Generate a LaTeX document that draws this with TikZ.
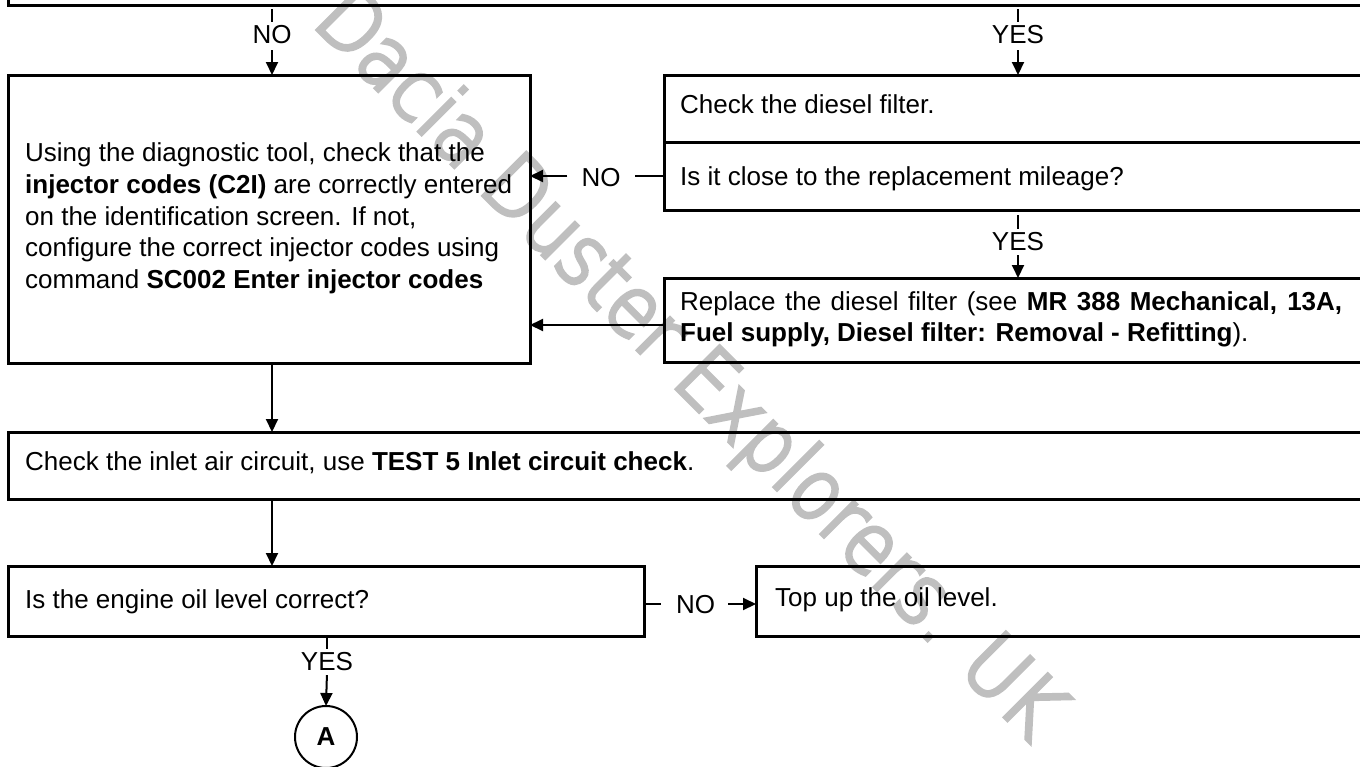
\documentclass[tikz,border=0pt]{standalone}
\usepackage{fontspec}
\setmainfont{Liberation Sans}
\newfontfamily\wmfont{DejaVu Sans ExtraLight}[FakeStretch=0.9, FakeBold=5]
\usetikzlibrary{arrows.meta}
\newcommand\fsz{\fontsize{26pt}{31.7pt}\selectfont}
\newcommand\wmsz{\wmfont\fontsize{83pt}{83pt}\selectfont}
\tikzset{
  box/.style={draw, line width=3pt, rectangle, inner sep=0pt, outer sep=0pt, anchor=north west},
  conn/.style={line width=2pt},
  arr/.style={line width=2pt, -{Triangle[length=13pt,width=12pt]}},
  lbl/.style={inner xsep=0pt, inner ysep=2pt, text height=19pt, text depth=0pt, anchor=base},
  txt/.style={inner sep=0pt, anchor=base west},
}
\begin{document}
\begin{tikzpicture}[x=1pt, y=-1pt, font=\fsz]
\useasboundingbox (0,0) rectangle (1360,766);
\clip (0,0) rectangle (1360,766);
% watermark
\node[font=\wmsz, text=black!25, rotate=-45, inner sep=0pt, text height=60pt, text depth=0pt] (wm) at (692,362) {Dacia Duster Explorers. UK};
% boxes
\node[box, minimum width=1362pt, minimum height=40pt] (top) at (8,-35) {};
\node[box, minimum width=522pt, minimum height=288pt] (left) at (8,75) {};
\node[box, minimum width=706pt, minimum height=67pt] (chk) at (664,75) {};
\node[box, minimum width=706pt, minimum height=68pt] (mil) at (664,142) {};
\node[box, minimum width=706pt, minimum height=84pt] (rep) at (664,278) {};
\node[box, minimum width=1362pt, minimum height=67pt] (inlet) at (8,432) {};
\node[box, minimum width=636pt, minimum height=70pt] (oil) at (8,566) {};
\node[box, minimum width=614pt, minimum height=70pt] (topup) at (756,566) {};
\node[circle, draw, line width=2pt, minimum size=62pt, inner sep=0pt, outer sep=0pt, font=\fsz\bfseries] (A) at (326,737) {A};
% texts
\node[txt] (l1) at (25,161) {Using the diagnostic tool, check that the};
\node[txt] (l2) at (25,193) {\textbf{injector codes (C2I)} are correctly entered};
\node[txt] (l3) at (25,225) {on the identification screen. If not,};
\node[txt] (l4) at (25,256) {configure the correct injector codes using};
\node[txt] (l5) at (25,288) {command \textbf{SC002 Enter injector codes}};
\node[txt] (t1) at (680,113) {Check the diesel filter.};
\node[txt] (t2) at (680,185) {Is it close to the replacement mileage?};
\node[txt] (r1) at (680,310) {\makebox[662pt][s]{Replace the diesel filter (see \textbf{MR 388 Mechanical, 13A,}}};
\node[txt] (r2) at (680,341) {\textbf{Fuel supply, Diesel filter: Removal - Refitting}).};
\node[txt] (t3) at (25,470) {Check the inlet air circuit, use \textbf{TEST 5 Inlet circuit check}.};
\node[txt] (t4) at (25,608) {Is the engine oil level correct?};
\node[txt] (t5) at (775,606) {Top up the oil level.};
% labels
\node[lbl] (noA) at (272,43) {NO};
\node[lbl] (yesA) at (1018,43) {YES};
\node[lbl] (noB) at (601,186) {NO};
\node[lbl] (yesB) at (1018,250) {YES};
\node[lbl] (noC) at (695.5,613.5) {NO};
\node[lbl] (yesC) at (327,670) {YES};
% connectors
\draw[conn, shorten <=4pt] (top.south -| noA) -- (noA.north);
\draw[arr, shorten <=5pt] (noA.south) -- (left.north -| noA);
\draw[conn, shorten <=4pt] (top.south -| yesA) -- (yesA.north);
\draw[arr, shorten <=5pt] (yesA.south) -- (chk.north -| yesA);
\draw[conn, shorten >=14pt] (mil.west) -- (mil.west -| noB.east);
\draw[arr, shorten <=14pt] (mil.west -| noB.west) -- (mil.west -| left.east);
\draw[conn, shorten <=5pt] (mil.south -| yesB) -- (yesB.north);
\draw[arr, shorten <=3pt] (yesB.south) -- (rep.north -| yesB);
\draw[arr] ([yshift=-5pt]rep.west) -- ([yshift=-5pt]rep.west -| left.east);
\draw[arr] (left.south -| noA) -- (inlet.north -| noA);
\draw[arr] (inlet.south -| noA) -- (oil.north -| noA);
\draw[conn, shorten >=15pt] ([yshift=-3pt]oil.east) -- ([yshift=-3pt]oil.east -| noC.west);
\draw[arr, shorten <=13pt] ([yshift=-3pt]oil.east -| noC.east) -- ([yshift=-3pt]oil.east -| topup.west);
\draw[conn, shorten <=2pt] (oil.south -| yesC) -- (yesC.north);
\draw[arr, shorten <=3pt] (yesC.south) -- (A.north);
\end{tikzpicture}
\end{document}
